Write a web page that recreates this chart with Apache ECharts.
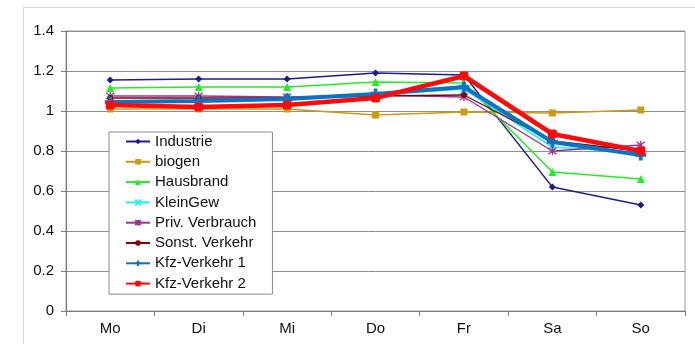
<!DOCTYPE html>
<html>
<head>
<meta charset="utf-8">
<script src="https://cdn.jsdelivr.net/npm/echarts@6/dist/echarts.min.js"></script>
<style>
  html, body { margin: 0; padding: 0; background: #fff; }
  #chart { width: 695px; height: 344px; }
</style>
</head>
<body>
<div id="chart"></div>
<script>
// Wochentage
const days = ['Mo', 'Di', 'Mi', 'Do', 'Fr', 'Sa', 'So'];

// Tagesfaktoren je Quellgruppe
const industrie      = [1.155, 1.16, 1.16, 1.19, 1.18, 0.62, 0.53];
const biogen         = [1.01, 1.01, 1.01, 0.98, 0.995, 0.99, 1.005];
const hausbrand      = [1.115, 1.12, 1.12, 1.145, 1.14, 0.695, 0.66];
const kleinGew       = [1.05, 1.05, 1.06, 1.08, 1.11, 0.82, 0.79];
const privVerbrauch  = [1.075, 1.075, 1.07, 1.08, 1.07, 0.80, 0.83];
const sonstVerkehr   = [1.065, 1.065, 1.065, 1.075, 1.08, 0.85, 0.80];
const kfzVerkehr1    = [1.045, 1.05, 1.06, 1.085, 1.12, 0.845, 0.78];
const kfzVerkehr2    = [1.03, 1.02, 1.03, 1.065, 1.175, 0.885, 0.80];

// y-Achse
const yMin = 0, yMax = 1.4, yStep = 0.2;

const FONT = '"Liberation Sans", Arial, sans-serif';

const xMark = 'path://M0,0L10,10M10,0L0,10';
const starMark = 'path://M0,0L10,10M10,0L0,10M5,-1L5,11';
const plusMark = 'path://M3,0H6V3H9V6H6V9H3V6H0V3H3Z';

function lineSeries(name, data, color, width, symbol, size, stroke) {
  const s = {
    name: name,
    type: 'line',
    data: data,
    symbol: symbol,
    symbolSize: size,
    showSymbol: true,
    animation: false,
    lineStyle: { color: color, width: width },
    itemStyle: { color: color }
  };
  if (stroke) {
    s.itemStyle = { color: 'none', borderColor: color, borderWidth: 1.3 };
  }
  return s;
}

const chart = echarts.init(document.getElementById('chart'), null, { renderer: 'canvas' });

chart.setOption({
  backgroundColor: '#fff',
  animation: false,
  textStyle: { fontFamily: FONT },
  graphic: [{
    type: 'rect',
    z: -10,
    shape: { x: 23.5, y: 7.5, width: 700, height: 400 },
    style: { fill: '#fff', stroke: '#d8d8d8', lineWidth: 1 }
  }],
  grid: {
    left: 66, right: 10, top: 31, bottom: 33,
    show: true, borderColor: '#9a9a9a', borderWidth: 1, backgroundColor: 'transparent'
  },
  legend: {
    orient: 'vertical',
    left: 109, top: 132,
    padding: [2, 16, 3, 16],
    itemGap: 5.3,
    itemWidth: 24,
    itemHeight: 7,
    backgroundColor: '#fff',
    borderColor: '#8a8a8a',
    borderWidth: 1,
    textStyle: { fontFamily: FONT, fontSize: 15, color: '#111', lineHeight: 15 },
    data: ['Industrie', 'biogen', 'Hausbrand', 'KleinGew', 'Priv. Verbrauch',
           'Sonst. Verkehr', 'Kfz-Verkehr 1', 'Kfz-Verkehr 2']
  },
  xAxis: {
    type: 'category',
    data: days,
    boundaryGap: true,
    axisLine: { lineStyle: { color: '#7a7a7a', width: 1 } },
    axisTick: { show: true, length: 5, lineStyle: { color: '#7a7a7a' } },
    axisLabel: { fontFamily: FONT, fontSize: 15, color: '#111', margin: 10 }
  },
  yAxis: {
    type: 'value',
    min: yMin, max: yMax, interval: yStep,
    axisLine: { show: true, lineStyle: { color: '#7a7a7a', width: 1 } },
    axisTick: { show: true, length: 5, lineStyle: { color: '#7a7a7a' } },
    axisLabel: {
      fontFamily: FONT, fontSize: 15, color: '#111', margin: 12,
      formatter: v => String(Math.round(v * 10) / 10)
    },
    splitLine: { show: true, lineStyle: { color: '#8f8f8f', width: 1 } }
  },
  series: [
    lineSeries('Industrie', industrie, '#1c1c8a', 1.3, 'diamond', 7),
    lineSeries('biogen', biogen, '#cc9a14', 1.3, 'rect', 7),
    lineSeries('Hausbrand', hausbrand, '#22ee22', 1.5, 'triangle', 8),
    lineSeries('KleinGew', kleinGew, '#22f0f0', 1.5, xMark, 7, true),
    lineSeries('Priv. Verbrauch', privVerbrauch, '#993399', 1.3, starMark, 8, true),
    lineSeries('Sonst. Verkehr', sonstVerkehr, '#800000', 1.3, 'circle', 6),
    lineSeries('Kfz-Verkehr 1', kfzVerkehr1, '#0a74c4', 4, plusMark, 11),
    lineSeries('Kfz-Verkehr 2', kfzVerkehr2, '#ff0a0a', 4.5, 'roundRect', 9)
  ]
});
</script>
</body>
</html>
